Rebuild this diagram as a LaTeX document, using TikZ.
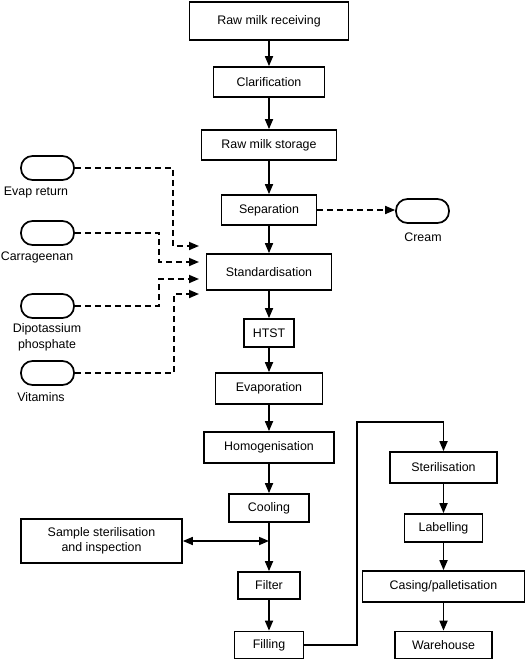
\documentclass[tikz,border=0pt]{standalone}
\usepackage{fontspec}
\setmainfont{Liberation Sans}
\usetikzlibrary{arrows.meta}

\begin{document}
\begin{tikzpicture}[x=1pt,y=-1pt,
    font=\fontsize{12.4}{15.5}\selectfont,
    box/.style={draw,line width=1.7pt,inner sep=0pt,align=center},
    pill/.style={draw,line width=1.7pt,rounded corners=11.5pt,minimum width=53pt,minimum height=24pt,inner sep=0pt},
    flow/.style={line width=1.7pt,-{Triangle[length=10pt,width=8pt]}},
    feed/.style={flow,dash pattern=on 6pt off 4pt}]
\useasboundingbox (0,0) rectangle (525,660);
% main line
\node[box,minimum width=159pt,minimum height=38pt] (recv) at (269,21) {Raw milk receiving};
\node[box,minimum width=111pt,minimum height=30pt] (clar) at (269,82) {Clarification};
\node[box,minimum width=135pt,minimum height=30pt] (stor) at (269,145) {Raw milk storage};
\node[box,minimum width=95pt,minimum height=30pt] (sep) at (269,210) {Separation};
\node[box,minimum width=125pt,minimum height=36pt] (std) at (269,272) {Standardisation};
\node[box,minimum width=50pt,minimum height=28pt] (htst) at (269,333) {HTST};
\node[box,minimum width=107pt,minimum height=31pt] (evap) at (269,388.5) {Evaporation};
\node[box,minimum width=130pt,minimum height=31pt] (homo) at (269,447.5) {Homogenisation};
\node[box,minimum width=80pt,minimum height=28pt] (cool) at (269,508) {Cooling};
\node[box,minimum width=62pt,minimum height=27pt] (filt) at (269,585.5) {Filter};
\node[box,minimum width=69pt,minimum height=27pt] (fill) at (269,645) {Filling};
% right column
\node[box,minimum width=107pt,minimum height=31pt] (ster) at (443.5,467.5) {Sterilisation};
\node[box,minimum width=78pt,minimum height=28pt] (lab) at (443.5,528) {Labelling};
\node[box,minimum width=162pt,minimum height=31pt] (cas) at (443.5,586.5) {Casing/palletisation};
\node[box,minimum width=97pt,minimum height=27pt] (ware) at (443.5,645) {Warehouse};
\node[box,minimum width=161pt,minimum height=44pt] (samp) at (101.5,541) {Sample sterilisation\\and inspection};
% inputs and outputs
\node[pill] (evret) at (47.5,168) {};
\node[pill] (carr) at (47.5,233) {};
\node[pill] (dipo) at (47.5,306) {};
\node[pill] (vita) at (47.5,373) {};
\node[pill] (cream) at (422.5,211) {};
\node (evretl) at (36,193) {Evap return};
\node (carrl) at (37,257) {Carrageenan};
\node[align=center] (dipol) at (47,337.5) {Dipotassium\\phosphate};
\node (vital) at (41,397) {Vitamins};
\node (creaml) at (423,237) {Cream};
\coordinate (in1) at (199,246);
\coordinate (in2) at (199,262);
\coordinate (in3) at (199,279);
\coordinate (in4) at (199,294);
\coordinate (turn) at (357,422);

\foreach \a/\b in {recv/clar,clar/stor,stor/sep,sep/std,std/htst,htst/evap,evap/homo,homo/cool,cool/filt,filt/fill,ster/lab,lab/cas,cas/ware}
  \draw[flow] (\a.south) -- (\b.north);
\draw[flow,{Triangle[length=10pt,width=8pt]}-{Triangle[length=10pt,width=8pt]}] (samp.east) -- (samp.east -| cool.south);
\draw[flow] (fill.east) -| (turn) -| (ster.north);

\draw[feed] (evret.east) -| (173,246) -- (in1);
\draw[feed] (carr.east) -| (159,262) -- (in2);
\draw[feed] (dipo.east) -| (159,279) -- (in3);
\draw[feed] (vita.east) -| (174,294) -- (in4);
\draw[feed] (sep.east) -- (sep.east -| cream.west);
\end{tikzpicture}
\end{document}
